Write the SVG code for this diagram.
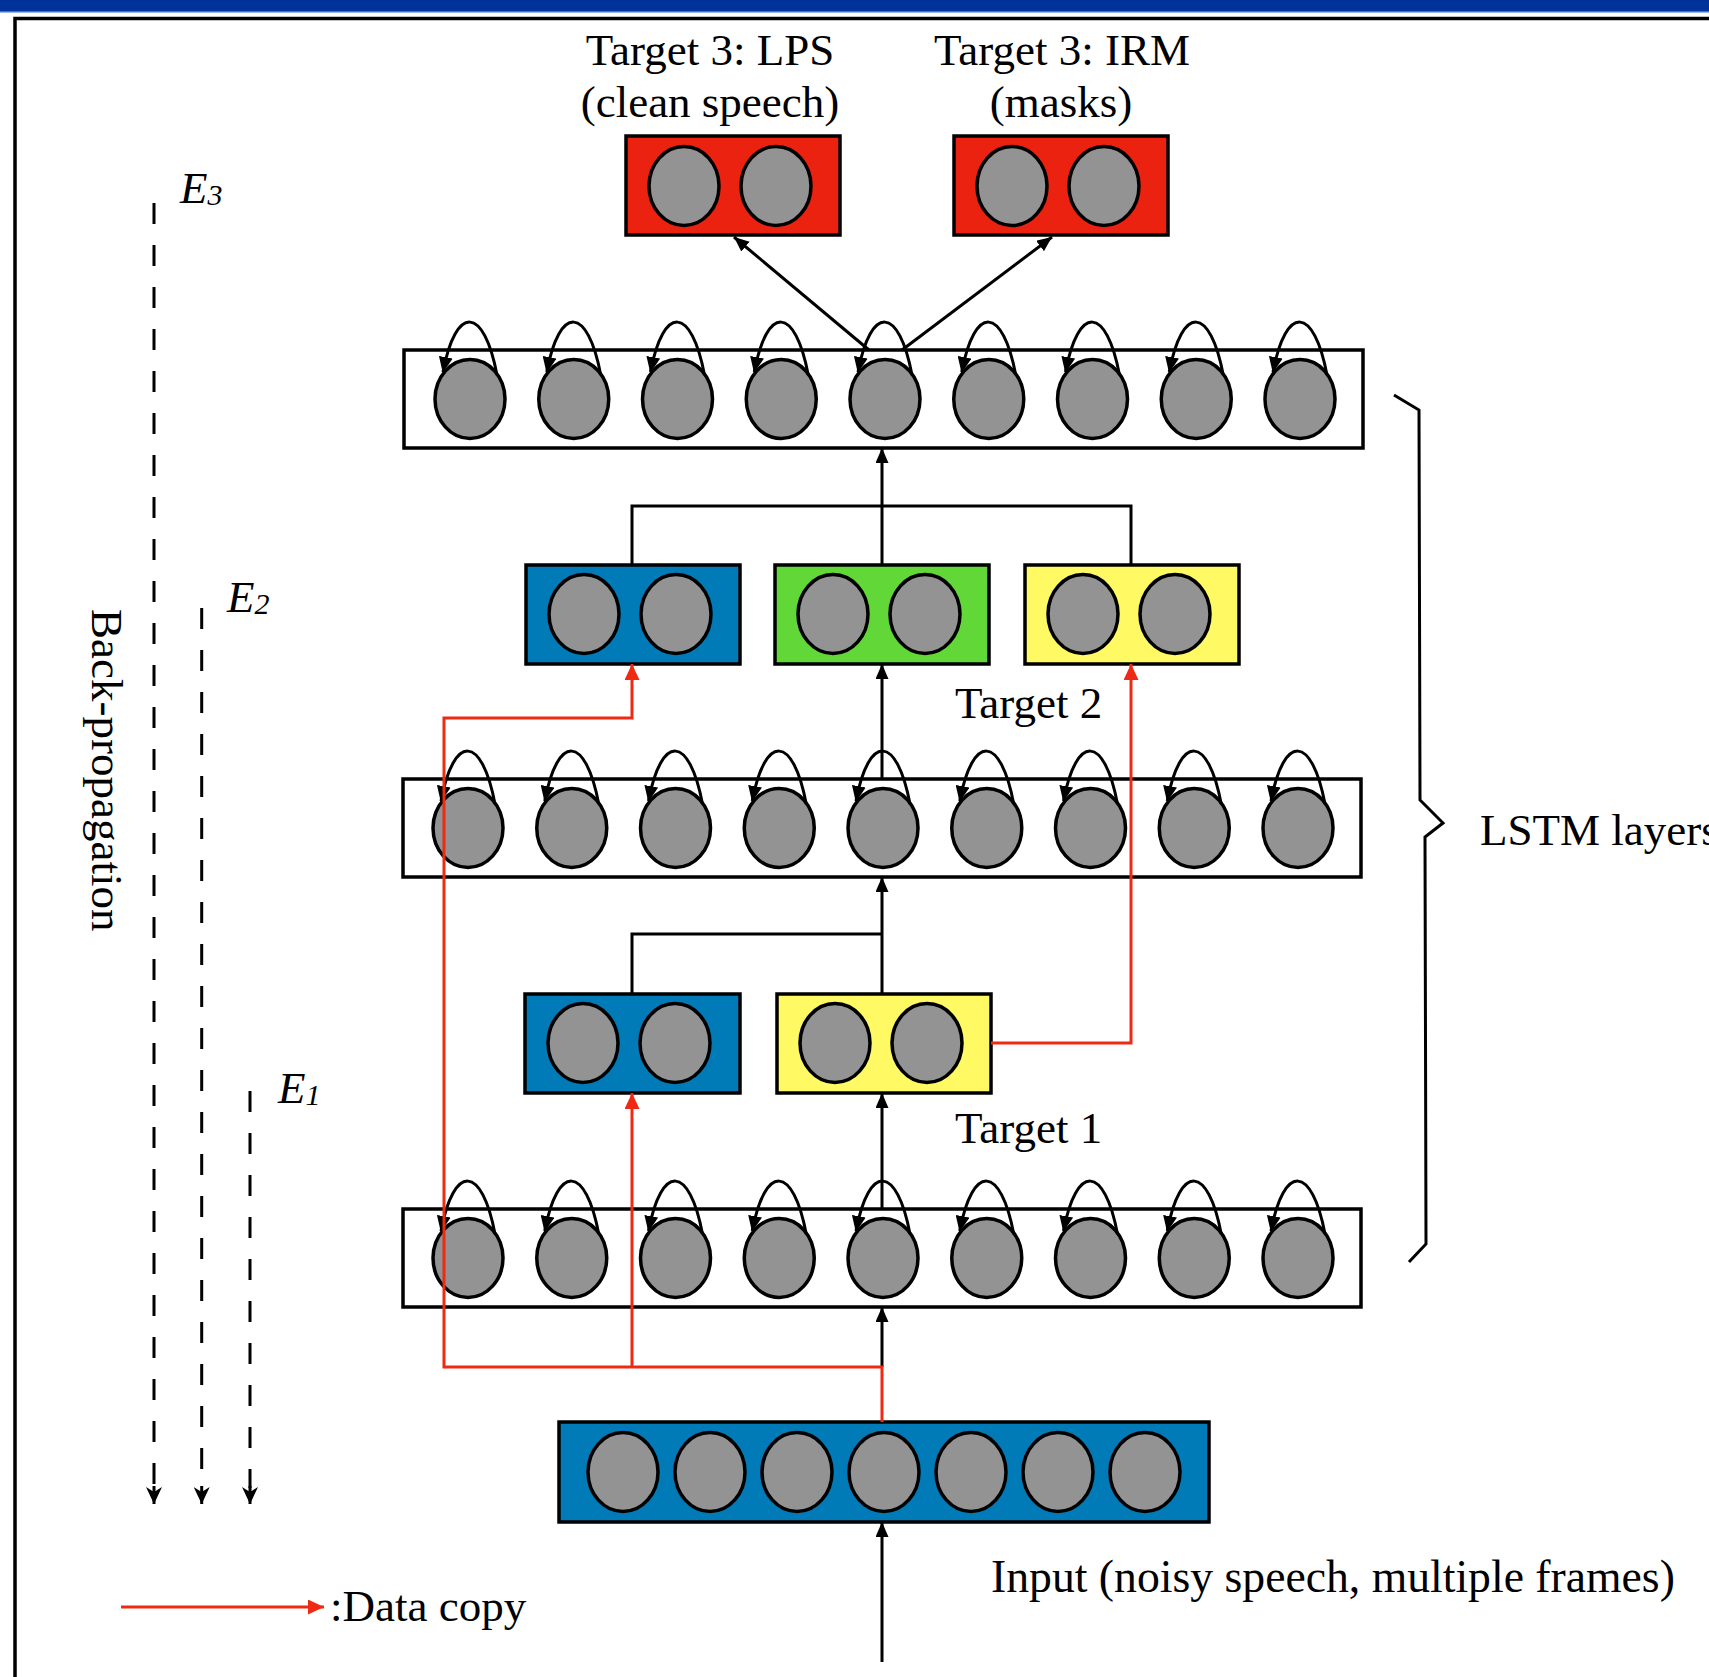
<svg xmlns="http://www.w3.org/2000/svg" xmlns:xlink="http://www.w3.org/1999/xlink" width="1709" height="1677" viewBox="0 0 1709 1677">
<style>
.box{stroke:#000;stroke-width:3.5}
.plain{fill:#fff}
.red{fill:#EC2210}
.blue{fill:#007BB8}
.green{fill:#62D838}
.yellow{fill:#FFF963}
.cell{fill:#939393;stroke:#000;stroke-width:3.5}
.loop{fill:none;stroke:#000;stroke-width:3}
.ln{fill:none;stroke:#000;stroke-width:3}
.rl{fill:none;stroke:#EE2A14;stroke-width:3}
.dash{fill:none;stroke:#000;stroke-width:3;stroke-dasharray:21 21}
.t{font-family:"Liberation Serif","Times New Roman",serif;font-size:45px;fill:#000}
.e{font-family:"Liberation Serif","Times New Roman",serif;font-size:45px;font-style:italic;fill:#000}
</style>
<defs>
<marker id="ah" markerUnits="userSpaceOnUse" markerWidth="15" markerHeight="13" refX="15" refY="6.5" orient="auto"><path d="M0,0 L15,6.5 L0,13 z" fill="#000"/></marker>
<marker id="ahr" markerUnits="userSpaceOnUse" markerWidth="16" markerHeight="15" refX="16" refY="7.5" orient="auto"><path d="M0,0 L16,7.5 L0,15 z" fill="#EE2A14"/></marker>
<marker id="ahl" markerUnits="userSpaceOnUse" markerWidth="16" markerHeight="14" refX="15" refY="7" orient="auto"><path d="M0,0 L16,7 L0,14 z" fill="#000"/></marker>
<marker id="ahs" markerUnits="userSpaceOnUse" markerWidth="17" markerHeight="16" refX="17" refY="8" orient="auto"><path d="M0,0 L17,8 L0,16 L5,8 z" fill="#000"/></marker>
<g id="lc">
<ellipse class="cell" cx="0" cy="0" rx="35" ry="39.5"/>
<path class="loop" d="M27,-24 C14,-93 -14,-95 -27,-27" marker-end="url(#ahl)"/>
</g>
<ellipse id="c" class="cell" cx="0" cy="0" rx="35" ry="39.5"/>
</defs>

<rect x="0" y="0" width="1709" height="1677" fill="#fff"/>
<rect x="0" y="0" width="1709" height="11" fill="#003399"/>
<rect x="0" y="11" width="1709" height="1.5" fill="#3C74DA"/>
<path d="M15,1677 V18.5 H1709" fill="none" stroke="#000" stroke-width="3.5"/>

<g id="target3_lps">
<rect class="box red" x="626" y="136" width="214" height="99"/>
<use href="#c" x="684" y="186"/><use href="#c" x="776" y="186"/>
<text class="t" x="710" y="65" text-anchor="middle">Target 3: LPS</text>
<text class="t" x="710" y="117" text-anchor="middle">(clean speech)</text>
</g>
<g id="target3_irm">
<rect class="box red" x="954" y="136" width="214" height="99"/>
<use href="#c" x="1012" y="186"/><use href="#c" x="1104" y="186"/>
<text class="t" x="1062" y="65" text-anchor="middle">Target 3: IRM</text>
<text class="t" x="1061" y="117" text-anchor="middle">(masks)</text>
</g>

<g id="lstm3">
<rect class="box plain" x="404" y="350" width="959" height="98"/>
<use href="#lc" x="470" y="399"/><use href="#lc" x="573.75" y="399"/><use href="#lc" x="677.5" y="399"/><use href="#lc" x="781.25" y="399"/><use href="#lc" x="885" y="399"/><use href="#lc" x="988.75" y="399"/><use href="#lc" x="1092.5" y="399"/><use href="#lc" x="1196.25" y="399"/><use href="#lc" x="1300" y="399"/>
</g>

<g id="target2_blue">
<rect class="box blue" x="526" y="565" width="214" height="99"/>
<use href="#c" x="584" y="614"/><use href="#c" x="676" y="614"/>
</g>
<g id="target2_green">
<rect class="box green" x="775" y="565" width="214" height="99"/>
<use href="#c" x="833" y="614"/><use href="#c" x="925" y="614"/>
</g>
<g id="target2_yellow">
<rect class="box yellow" x="1025" y="565" width="214" height="99"/>
<use href="#c" x="1083" y="614"/><use href="#c" x="1175" y="614"/>
</g>
<text id="label_target2" class="t" x="955" y="718">Target 2</text>

<g id="lstm2">
<rect class="box plain" x="403" y="779" width="958" height="98"/>
<use href="#lc" x="468" y="828"/><use href="#lc" x="571.75" y="828"/><use href="#lc" x="675.5" y="828"/><use href="#lc" x="779.25" y="828"/><use href="#lc" x="883" y="828"/><use href="#lc" x="986.75" y="828"/><use href="#lc" x="1090.5" y="828"/><use href="#lc" x="1194.25" y="828"/><use href="#lc" x="1298" y="828"/>
</g>

<g id="target1_blue">
<rect class="box blue" x="525" y="994" width="215" height="99"/>
<use href="#c" x="583" y="1043"/><use href="#c" x="675" y="1043"/>
</g>
<g id="target1_yellow">
<rect class="box yellow" x="777" y="994" width="214" height="99"/>
<use href="#c" x="835" y="1043"/><use href="#c" x="927" y="1043"/>
</g>
<text id="label_target1" class="t" x="955" y="1143">Target 1</text>

<g id="lstm1">
<rect class="box plain" x="403" y="1209" width="958" height="98"/>
<use href="#lc" x="468" y="1258"/><use href="#lc" x="571.75" y="1258"/><use href="#lc" x="675.5" y="1258"/><use href="#lc" x="779.25" y="1258"/><use href="#lc" x="883" y="1258"/><use href="#lc" x="986.75" y="1258"/><use href="#lc" x="1090.5" y="1258"/><use href="#lc" x="1194.25" y="1258"/><use href="#lc" x="1298" y="1258"/>
</g>

<g id="input">
<rect class="box blue" x="559" y="1422" width="650" height="100"/>
<use href="#c" x="623" y="1472"/><use href="#c" x="710" y="1472"/><use href="#c" x="797" y="1472"/><use href="#c" x="884" y="1472"/><use href="#c" x="971" y="1472"/><use href="#c" x="1058" y="1472"/><use href="#c" x="1145" y="1472"/>
<text class="t" x="991" y="1592" style="font-size:45.7px">Input (noisy speech, multiple frames)</text>
</g>

<g id="lstm_brace">
<path d="M1394,395 L1419,410 L1420,800 L1443,823 L1425,837 L1426,1244 L1409,1262" fill="none" stroke="#000" stroke-width="3"/>
<text class="t" x="1480" y="845">LSTM layers</text>
</g>

<g id="backprop">
<text class="t" transform="translate(92,609) rotate(90)">Back-propagation</text>
<text class="e" x="180" y="203">E<tspan font-size="30" dy="2">3</tspan></text>
<text class="e" x="227" y="612">E<tspan font-size="30" dy="2">2</tspan></text>
<text class="e" x="278" y="1103">E<tspan font-size="30" dy="2">1</tspan></text>
</g>

<g id="legend">
<path class="rl" d="M121,1607 H324" marker-end="url(#ahr)"/>
<text class="t" x="330" y="1621">:Data copy</text>
</g>

<g id="connectors">
<path class="ln" d="M869,350 L734,237" marker-end="url(#ah)"/>
<path class="ln" d="M902,350 L1052,237" marker-end="url(#ah)"/>
<path class="ln" d="M632,565 V506 H1131 V565"/>
<path class="ln" d="M882,565 V448" marker-end="url(#ah)"/>
<path class="ln" d="M882,779 V664" marker-end="url(#ah)"/>
<path class="ln" d="M632,994 V934 H882"/>
<path class="ln" d="M882,994 V877" marker-end="url(#ah)"/>
<path class="ln" d="M882,1209 V1093" marker-end="url(#ah)"/>
<path class="ln" d="M882,1367 V1307" marker-end="url(#ah)"/>
<path class="ln" d="M882,1662 V1522" marker-end="url(#ah)"/>
<path class="rl" d="M882,1422 V1367 H444 V718 H632 V664" marker-end="url(#ahr)"/>
<path class="rl" d="M632,1367 V1093" marker-end="url(#ahr)"/>
<path class="rl" d="M991,1043 H1131 V664" marker-end="url(#ahr)"/>
<path class="dash" d="M154,203 V1488"/>
<path class="ln" d="M154,1486 V1504" marker-end="url(#ahs)"/>
<path class="dash" d="M201.7,608 V1488"/>
<path class="ln" d="M201.7,1486 V1504" marker-end="url(#ahs)"/>
<path class="dash" d="M250,1091 V1488"/>
<path class="ln" d="M250,1486 V1504" marker-end="url(#ahs)"/>
</g>
</svg>
